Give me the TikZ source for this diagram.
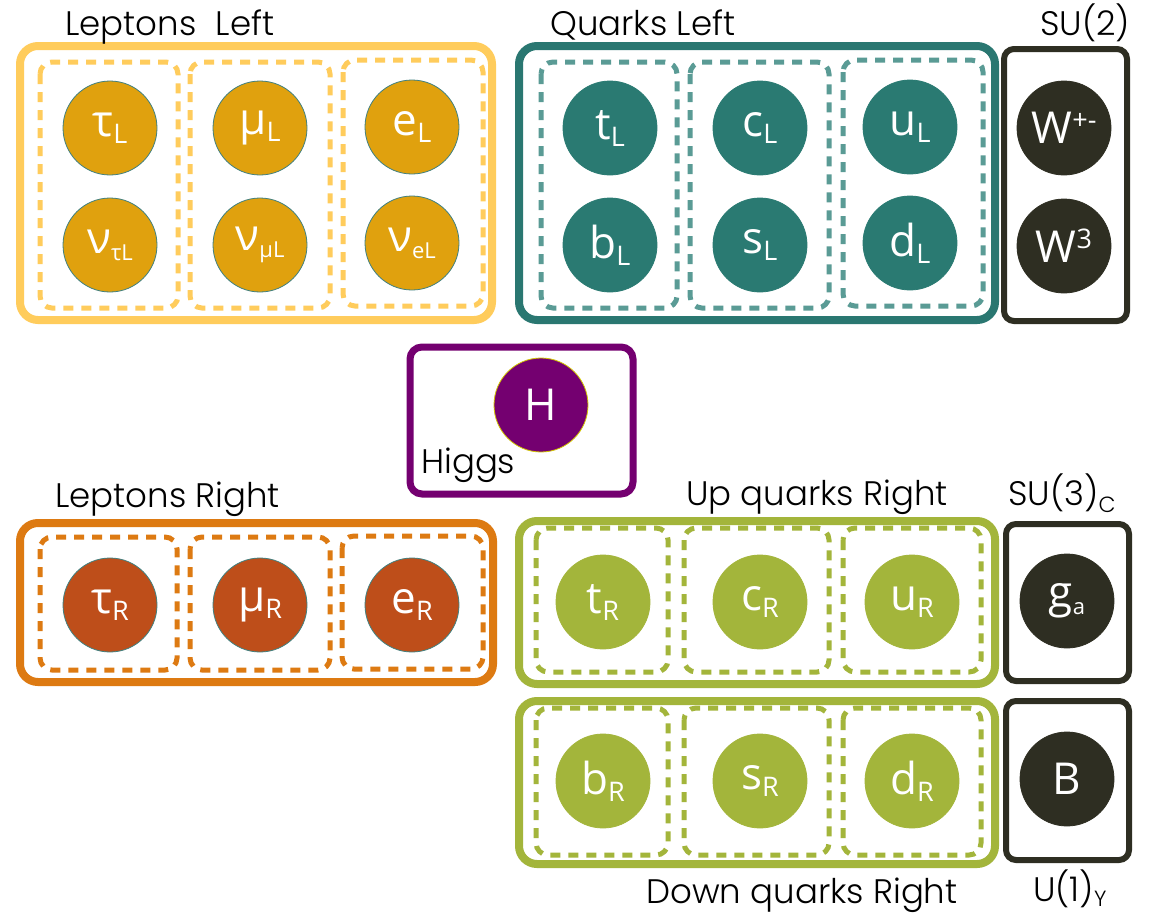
\documentclass[tikz,border=0pt]{standalone}
\usepackage{fontspec}
\setmainfont{Poppins}[UprightFont=* Light]
\newfontfamily\plfont{Open Sans}
\definecolor{lepLbox}{HTML}{FFCC5C}
\definecolor{lepLfill}{HTML}{E0A10E}
\definecolor{qLbox}{HTML}{2A7771}
\definecolor{qLdash}{HTML}{5A9B95}
\definecolor{qLfill}{HTML}{2A7A72}
\definecolor{darkbox}{HTML}{2E2E22}
\definecolor{higgs}{HTML}{740070}
\definecolor{lepRbox}{HTML}{DD7A12}
\definecolor{lepRfill}{HTML}{BE4E1A}
\definecolor{grn}{HTML}{A3B53B}
\newcommand\lo[1]{\raisebox{-7pt}{\fontsize{27}{27}\selectfont #1}}
\newcommand\hi[1]{\raisebox{14pt}{\fontsize{27}{27}\selectfont #1}}
\newcommand\tlo[1]{\raisebox{-7pt}{\fontsize{22}{22}\selectfont #1}}
\tikzset{
  outerbox/.style={line width=8pt, rounded corners=18pt},
  dashbox/.style={line width=5pt, rounded corners=12pt, dash pattern=on 10pt off 8pt},
  part/.style={circle, minimum size=94pt, inner sep=0pt, text=white,
     font=\plfont\fontsize{44}{48}\selectfont, line width=0.8pt},
  title/.style={anchor=base west, inner sep=0pt, font=\fontsize{34}{40}\selectfont, text=black},
  pL/.style={part, fill=lepLfill, draw=teal!50!gray},
  pQL/.style={part, fill=qLfill, draw=qLfill},
  pD/.style={part, fill=darkbox, draw=darkbox},
  pH/.style={part, fill=higgs, draw=yellow!60!olive},
  pR/.style={part, fill=lepRfill, draw=teal!50!gray},
  pG/.style={part, fill=grn, draw=grn},
}
\begin{document}
\begin{tikzpicture}[x=1pt,y=-1pt]
\fill[white] (0,0) rectangle (1154,916);
% Leptons Left
\draw[outerbox, lepLbox] (20,46) rectangle (492,320);
\draw[dashbox, lepLbox] (40,62) rectangle (178,308);
\draw[dashbox, lepLbox] (190,62) rectangle (330,308);
\draw[dashbox, lepLbox] (343,60) rectangle (483,306);
\node[pL] (tauL) at (110,128) {τ\lo{L}};
\node[pL] (muL) at (260,128) {μ\lo{L}};
\node[pL] (eL) at (412,127) {e\lo{L}};
\node[pL] (ntau) at (110,245) {ν\tlo{τL}};
\node[pL] (nmu) at (260,245) {ν\tlo{μL}};
\node[pL] (ne) at (412,243) {ν\tlo{eL}};
\node[title] (tLL) at (65,35) {Leptons\hspace{0.3em} Left};
% Quarks Left
\draw[outerbox, qLbox] (519,46) rectangle (995,320);
\draw[dashbox, qLdash] (541,62) rectangle (677,308);
\draw[dashbox, qLdash] (690,62) rectangle (829,308);
\draw[dashbox, qLdash] (843,60) rectangle (983,306);
\node[pQL] (tL) at (610,128) {t\lo{L}};
\node[pQL] (cL) at (760,128) {c\lo{L}};
\node[pQL] (uL) at (910,127) {u\lo{L}};
\node[pQL] (bL) at (610,245) {b\lo{L}};
\node[pQL] (sL) at (760,245) {s\lo{L}};
\node[pQL] (dL) at (910,243) {d\lo{L}};
\node[title] (tQL) at (550,35) {Quarks Left};
% SU(2)
\draw[outerbox, darkbox, line width=6pt, rounded corners=10pt] (1004,49) rectangle (1127,321);
\node[pD] (Wpm) at (1064,128) {W\hi{+-}};
\node[pD] (W3) at (1064,246) {W\hi{3}};
\node[title] (tSU2) at (1040,35) {SU(2)};
% Higgs
\draw[line width=7pt, rounded corners=12pt, higgs] (410,347) rectangle (633,494);
\node[pH] (H) at (541,405) {H};
\node[title] (tH) at (421,473) {Higgs};
% Leptons Right
\draw[outerbox, lepRbox] (20,523) rectangle (493,682);
\draw[dashbox, lepRbox] (40,537) rectangle (177,670);
\draw[dashbox, lepRbox] (190,537) rectangle (330,670);
\draw[dashbox, lepRbox] (342,536) rectangle (483,669);
\node[pR] (tauR) at (110,605) {τ\lo{R}};
\node[pR] (muR) at (260,605) {μ\lo{R}};
\node[pR] (eR) at (412,605) {e\lo{R}};
\node[title] (tLR) at (55,507) {Leptons Right};
% Up quarks Right
\draw[outerbox, grn] (519,521) rectangle (995,684);
\draw[dashbox, grn] (536,528) rectangle (668,672);
\draw[dashbox, grn] (684,528) rectangle (829,672);
\draw[dashbox, grn] (843,528) rectangle (981,672);
\node[pG] (tR) at (603,602) {t\lo{R}};
\node[pG] (cR) at (760,602) {c\lo{R}};
\node[pG] (uR) at (912,602) {u\lo{R}};
\node[title] (tUQ) at (686,505) {Up quarks Right};
% SU(3)
\draw[outerbox, darkbox, line width=6pt, rounded corners=10pt] (1006,524) rectangle (1129,681);
\node[pD] (ga) at (1067,601) {g\tlo{a}};
\node[title] (tSU3) at (1008,505) {SU(3)\tlo{C}};
% Down quarks Right
\draw[outerbox, grn] (519,701) rectangle (995,864);
\draw[dashbox, grn] (536,708) rectangle (668,855);
\draw[dashbox, grn] (684,708) rectangle (829,855);
\draw[dashbox, grn] (843,708) rectangle (981,855);
\node[pG] (bR) at (603,781) {b\lo{R}};
\node[pG] (sR) at (760,781) {s\lo{R}};
\node[pG] (dR) at (912,781) {d\lo{R}};
\node[title] (tDQ) at (646,903) {Down quarks Right};
% U(1)
\draw[outerbox, darkbox, line width=6pt, rounded corners=10pt] (1006,701) rectangle (1129,860);
\node[pD] (B) at (1067,779) {B};
\node[title] (tU1) at (1033,901) {U(1)\raisebox{-5pt}{\fontsize{22}{22}\selectfont Y}};
\end{tikzpicture}
\end{document}
